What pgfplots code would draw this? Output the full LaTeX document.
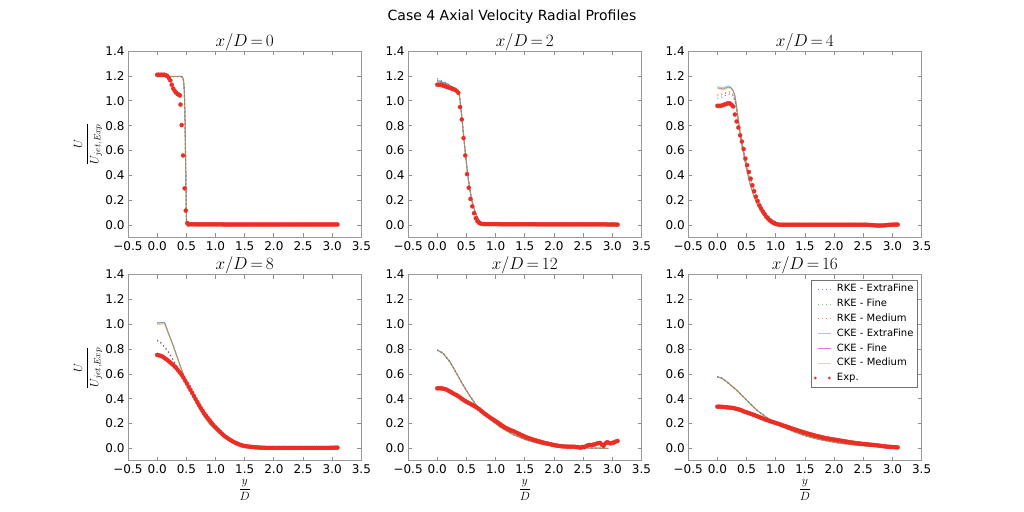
\documentclass[border=0pt]{standalone}
\usepackage{fontspec}
\setmainfont{DejaVu Sans}
\usepackage{pgfplots}
\usepackage{pgfplotstable}
\pgfplotsset{compat=1.18}

\definecolor{mplb}{rgb}{0,0,1}
\definecolor{mplg}{rgb}{0,0.5,0}
\definecolor{mplr}{rgb}{1,0,0}
\definecolor{mplc}{rgb}{0,0.75,0.75}
\definecolor{mplm}{rgb}{0.75,0,0.75}
\definecolor{mply}{rgb}{0.75,0.75,0}
\definecolor{expred}{RGB}{235,45,35}

% experimental data, common grid
\pgfplotstableread{
x e0 e2 e4 e8 e12 e16
0.00 nan 1.13 0.96 0.753 0.484 0.336
0.03 nan 1.13 0.96 0.75 0.485 0.336
0.06 nan 1.13 0.96 0.745 0.484 0.335
0.09 nan 1.125 0.965 0.74 0.482 0.334
0.12 nan 1.12 0.97 0.73 0.479 0.333
0.15 nan 1.115 0.975 0.72 0.475 0.331
0.18 nan 1.11 0.98 0.71 0.468 0.33
0.21 nan 1.105 0.98 0.698 0.46 0.328
0.24 nan 1.10 0.97 0.685 0.452 0.327
0.27 nan 1.095 0.955 0.674 0.443 0.325
0.30 nan 1.09 0.89 0.66 0.436 0.322
0.33 nan 1.08 0.834 0.645 0.43 0.318
0.36 nan 1.065 0.785 0.628 0.42 0.315
0.39 nan 0.95 0.722 0.61 0.41 0.31
0.42 nan 0.85 0.672 0.591 0.40 0.305
0.45 nan 0.70 0.612 0.57 0.39 0.299
0.48 nan 0.56 0.535 0.545 0.381 0.293
0.51 nan 0.41 0.482 0.522 0.373 0.289
0.54 0.008 0.30 0.427 0.497 0.366 0.284
0.57 0.006 0.21 0.373 0.472 0.358 0.279
0.60 0.006 0.15 0.32 0.447 0.35 0.274
0.63 0.005 0.095 0.272 0.422 0.342 0.269
0.66 0.005 0.055 0.228 0.397 0.334 0.263
0.69 0.005 0.03 0.193 0.372 0.325 0.258
0.72 0.005 0.016 0.158 0.347 0.315 0.252
0.75 0.005 0.01 0.132 0.324 0.303 0.246
0.78 0.005 0.008 0.107 0.302 0.292 0.241
0.81 0.005 0.007 0.086 0.28 0.28 0.235
0.84 0.005 0.007 0.065 0.261 0.27 0.23
0.87 0.005 0.007 0.05 0.243 0.26 0.225
0.90 0.005 0.007 0.036 0.225 0.25 0.22
0.93 0.005 0.007 0.025 0.207 0.241 0.215
0.96 0.005 0.007 0.016 0.189 0.232 0.211
0.99 0.005 0.007 0.01 0.174 0.223 0.206
1.02 0.005 0.007 0.006 0.16 0.213 0.202
1.05 0.005 0.007 0.003 0.146 0.204 0.197
1.08 0.005 0.006 0.002 0.132 0.194 0.192
1.11 0.005 0.006 0.002 0.118 0.184 0.187
1.14 0.004 0.006 0.002 0.105 0.175 0.182
1.17 0.004 0.006 0.002 0.094 0.166 0.178
1.20 0.004 0.006 0.002 0.084 0.159 0.173
1.23 0.004 0.006 0.002 0.075 0.153 0.168
1.26 0.004 0.006 0.002 0.066 0.146 0.163
1.29 0.004 0.006 0.002 0.058 0.141 0.158
1.32 0.004 0.006 0.002 0.05 0.135 0.153
1.35 0.004 0.006 0.002 0.043 0.129 0.149
1.38 0.004 0.006 0.002 0.037 0.122 0.144
1.41 0.004 0.006 0.002 0.031 0.115 0.14
1.44 0.004 0.006 0.002 0.026 0.108 0.135
1.47 0.004 0.006 0.002 0.022 0.101 0.131
1.50 0.004 0.006 0.002 0.019 0.095 0.126
1.53 0.004 0.006 0.002 0.017 0.089 0.122
1.56 0.004 0.006 0.002 0.015 0.084 0.118
1.59 0.004 0.006 0.002 0.013 0.079 0.114
1.62 0.004 0.006 0.002 0.012 0.074 0.11
1.65 0.004 0.006 0.002 0.011 0.069 0.106
1.68 0.004 0.006 0.002 0.009 0.065 0.102
1.71 0.004 0.005 0.002 0.008 0.061 0.099
1.74 0.004 0.005 0.002 0.007 0.057 0.096
1.77 0.004 0.005 0.002 0.006 0.053 0.092
1.80 0.004 0.005 0.002 0.005 0.049 0.089
1.83 0.004 0.005 0.002 0.005 0.045 0.085
1.86 0.004 0.005 0.002 0.004 0.042 0.082
1.89 0.004 0.005 0.002 0.004 0.039 0.08
1.92 0.004 0.005 0.002 0.004 0.035 0.077
1.95 0.004 0.005 0.002 0.004 0.032 0.075
1.98 0.004 0.005 0.002 0.004 0.029 0.073
2.01 0.004 0.005 0.002 0.004 0.026 0.07
2.04 0.004 0.005 0.002 0.004 0.023 0.068
2.07 0.004 0.005 0.002 0.004 0.021 0.066
2.10 0.004 0.005 0.002 0.004 0.019 0.063
2.13 0.004 0.005 0.002 0.004 0.017 0.061
2.16 0.004 0.005 0.002 0.004 0.016 0.058
2.19 0.004 0.005 0.002 0.004 0.015 0.056
2.22 0.004 0.005 0.002 0.004 0.014 0.054
2.25 0.004 0.005 0.002 0.004 0.014 0.051
2.28 0.004 0.005 0.002 0.004 0.013 0.049
2.31 0.004 0.005 0.002 0.004 0.014 0.047
2.34 0.004 0.005 0.002 0.004 0.013 0.045
2.37 0.004 0.005 0.002 0.004 0.012 0.043
2.40 0.004 0.005 0.002 0.004 0.01 0.041
2.43 0.004 0.005 0.002 0.004 0.008 0.039
2.46 0.004 0.005 0.002 0.004 0.006 0.038
2.49 0.004 0.005 0.002 0.004 0.012 0.036
2.52 0.004 0.005 0.002 0.004 0.01 0.035
2.55 0.004 0.005 0.002 0.004 0.018 0.033
2.58 0.004 0.005 0.001 0.004 0.025 0.032
2.61 0.004 0.005 0.0 0.004 0.028 0.03
2.64 0.004 0.005 0.0 0.004 0.026 0.029
2.67 0.004 0.005 -0.002 0.004 0.03 0.028
2.70 0.004 0.005 -0.003 0.004 0.032 0.026
2.73 0.004 0.005 -0.004 0.004 0.038 0.025
2.76 0.004 0.005 -0.004 0.004 0.042 0.023
2.79 0.004 0.005 -0.005 0.004 0.044 0.021
2.82 0.004 0.005 -0.004 0.004 0.03 0.019
2.85 0.004 0.005 -0.003 0.004 0.02 0.017
2.88 0.004 0.005 -0.002 0.004 0.04 0.015
2.91 0.004 0.004 0.0 0.004 0.05 0.014
2.94 0.004 0.004 0.001 0.004 0.045 0.013
2.97 0.004 0.004 0.002 0.005 0.04 0.012
3.00 0.004 0.004 0.002 0.005 0.045 0.011
3.03 0.004 0.004 0.003 0.005 0.048 0.01
3.06 0.004 0.003 0.003 0.006 0.055 0.009
3.09 0.004 0.003 0.003 0.006 0.06 0.008
}\exptab

% experimental head of x/D=0 profile
\pgfplotstableread{
x y
0.000 1.21
0.025 1.21
0.050 1.21
0.075 1.21
0.100 1.21
0.125 1.21
0.150 1.205
0.175 1.20
0.200 1.185
0.225 1.165
0.250 1.13
0.275 1.10
0.300 1.08
0.325 1.065
0.350 1.055
0.375 1.048
0.390 1.043
0.400 0.97
0.420 0.805
0.445 0.56
0.470 0.295
0.490 0.116
0.515 0.015
}\expzero

% models: a=RKE-EF b=RKE-F c=RKE-M d=CKE-EF e=CKE-F f=CKE-M
\pgfplotstableread{
x a b c d e f
0 1.195 1.195 1.195 1.198 1.197 1.195
0.1 1.195 1.195 1.195 1.198 1.197 1.195
0.2 1.195 1.195 1.195 1.198 1.197 1.195
0.3 1.195 1.195 1.195 1.198 1.197 1.195
0.4 1.196 1.195 1.195 1.198 1.197 1.195
0.43 1.198 1.192 1.19 1.195 1.193 1.19
0.45 1.18 1.17 1.165 1.175 1.17 1.165
0.465 1.10 1.08 1.07 1.09 1.08 1.07
0.475 0.93 0.90 0.88 0.92 0.90 0.88
0.485 0.64 0.60 0.58 0.62 0.60 0.58
0.492 0.38 0.35 0.33 0.37 0.35 0.33
0.498 0.14 0.12 0.11 0.13 0.12 0.11
0.505 0.01 0.0 0.0 0.005 0.0 0.0
0.52 -0.01 -0.01 -0.008 -0.01 -0.01 -0.008
0.6 0.0 0.0 0.0 0.0 0.0 0.0
3.1 0 0 0 0 0 0
}\mzero

\pgfplotstableread{
x a b c d e f
0 1.18 1.17 1.16 1.165 1.16 1.15
0.05 1.17 1.16 1.155 1.16 1.155 1.15
0.1 1.155 1.15 1.145 1.15 1.145 1.14
0.15 1.145 1.14 1.14 1.145 1.14 1.135
0.2 1.13 1.13 1.125 1.13 1.125 1.125
0.25 1.115 1.115 1.11 1.115 1.11 1.11
0.3 1.10 1.10 1.095 1.10 1.095 1.095
0.35 1.085 1.085 1.08 1.085 1.08 1.08
0.37 1.075 1.075 1.07 1.075 1.07 1.07
0.39 1.01 1.0 1.0 1.01 1.0 1.0
0.42 0.88 0.87 0.87 0.88 0.87 0.87
0.45 0.73 0.72 0.72 0.73 0.72 0.72
0.48 0.59 0.58 0.58 0.59 0.58 0.58
0.51 0.46 0.45 0.45 0.46 0.45 0.45
0.54 0.35 0.34 0.34 0.35 0.34 0.34
0.57 0.26 0.25 0.25 0.26 0.25 0.25
0.60 0.19 0.18 0.18 0.19 0.18 0.18
0.64 0.12 0.115 0.115 0.12 0.115 0.115
0.68 0.072 0.068 0.068 0.072 0.068 0.068
0.72 0.038 0.035 0.035 0.038 0.035 0.035
0.76 0.018 0.016 0.016 0.018 0.016 0.016
0.80 0.007 0.006 0.006 0.007 0.006 0.006
0.9 0.001 0.001 0.001 0.001 0.001 0.001
1.0 0 0 0 0 0 0
3.1 0 0 0 0 0 0
}\mtwo

\pgfplotstableread{
x a b c d e f
0 1.02 1.04 1.05 1.115 1.105 1.10
0.05 1.025 1.045 1.055 1.11 1.10 1.095
0.1 1.035 1.05 1.06 1.105 1.095 1.09
0.15 1.045 1.06 1.07 1.115 1.105 1.10
0.19 1.05 1.065 1.075 1.12 1.11 1.105
0.23 1.05 1.06 1.07 1.11 1.105 1.10
0.27 1.04 1.045 1.05 1.085 1.08 1.08
0.30 1.0 1.0 1.005 1.045 1.04 1.04
0.33 0.93 0.93 0.93 0.95 0.95 0.95
0.36 0.84 0.84 0.84 0.84 0.84 0.84
0.39 0.75 0.75 0.75 0.73 0.73 0.73
0.42 0.67 0.67 0.67 0.64 0.64 0.64
0.45 0.60 0.60 0.60 0.575 0.575 0.575
0.50 0.49 0.49 0.49 0.45 0.45 0.45
0.56 0.38 0.38 0.38 0.33 0.33 0.33
0.62 0.29 0.29 0.29 0.24 0.24 0.24
0.67 0.225 0.225 0.225 0.18 0.18 0.18
0.73 0.165 0.165 0.165 0.125 0.125 0.125
0.79 0.12 0.12 0.12 0.085 0.085 0.085
0.85 0.085 0.085 0.085 0.052 0.052 0.052
0.93 0.045 0.045 0.045 0.022 0.022 0.022
1.04 0.015 0.015 0.015 0.005 0.005 0.005
1.15 0.004 0.004 0.004 0.001 0.001 0.001
1.3 0 0 0 0 0 0
3.1 0 0 0 0 0 0
}\mfour

\pgfplotstableread{
x a b c d e f
0 0.873 0.87 0.865 1.012 1.008 1.0
0.05 0.86 0.858 0.853 1.014 1.01 1.0
0.1 0.835 0.832 0.828 1.016 1.012 1.005
0.13 0.817 0.815 0.81 1.012 1.008 1.0
0.19 0.78 0.778 0.775 0.935 0.93 0.925
0.28 0.71 0.708 0.705 0.825 0.82 0.815
0.36 0.645 0.643 0.64 0.715 0.712 0.708
0.45 0.57 0.568 0.566 0.595 0.593 0.59
0.56 0.47 0.469 0.468 0.472 0.471 0.47
0.68 0.37 0.369 0.368 0.357 0.356 0.355
0.79 0.29 0.289 0.288 0.267 0.266 0.265
0.9 0.215 0.215 0.214 0.197 0.196 0.195
1.08 0.13 0.13 0.13 0.116 0.116 0.115
1.25 0.075 0.075 0.075 0.066 0.066 0.065
1.42 0.04 0.04 0.04 0.035 0.035 0.035
1.59 0.018 0.018 0.018 0.017 0.017 0.017
1.76 0.008 0.008 0.008 0.008 0.008 0.008
2.0 0.002 0.002 0.002 0.002 0.002 0.002
2.5 0 0 0 0 0 0
3.1 0 0 0 0 0 0
}\meight

\pgfplotstableread{
x a b c d e f
0 0.795 0.792 0.79 0.793 0.792 0.79
0.1 0.768 0.766 0.764 0.766 0.765 0.763
0.215 0.70 0.699 0.697 0.699 0.698 0.696
0.33 0.607 0.605 0.603 0.605 0.604 0.602
0.443 0.512 0.511 0.509 0.511 0.51 0.508
0.557 0.425 0.424 0.422 0.424 0.423 0.421
0.672 0.346 0.345 0.344 0.345 0.344 0.343
0.844 0.261 0.26 0.259 0.26 0.259 0.258
1.07 0.176 0.175 0.174 0.175 0.174 0.173
1.30 0.113 0.112 0.111 0.112 0.111 0.11
1.53 0.069 0.068 0.067 0.068 0.067 0.066
1.76 0.039 0.038 0.037 0.038 0.037 0.037
1.99 0.02 0.019 0.019 0.019 0.019 0.018
2.21 0.011 0.011 0.01 0.011 0.01 0.01
2.44 0.005 0.005 0.005 0.005 0.005 0.005
2.7 0.002 0.002 0.002 0.002 0.002 0.002
2.93 0 0 0 0 0 0
}\mtwelve

\pgfplotstableread{
x a b c d e f
0 0.578 0.577 0.576 0.578 0.577 0.576
0.08 0.565 0.564 0.563 0.565 0.564 0.563
0.16 0.538 0.537 0.536 0.538 0.537 0.536
0.33 0.47 0.469 0.468 0.47 0.469 0.468
0.5 0.39 0.389 0.388 0.39 0.389 0.388
0.674 0.309 0.308 0.307 0.309 0.308 0.307
0.845 0.25 0.249 0.248 0.249 0.248 0.247
1.017 0.198 0.198 0.197 0.198 0.197 0.196
1.188 0.16 0.16 0.159 0.16 0.159 0.158
1.36 0.127 0.126 0.126 0.126 0.125 0.125
1.53 0.1 0.099 0.099 0.099 0.098 0.098
1.70 0.078 0.078 0.077 0.077 0.077 0.076
1.874 0.062 0.061 0.06 0.06 0.06 0.059
2.045 0.048 0.047 0.047 0.046 0.046 0.045
2.216 0.038 0.037 0.036 0.035 0.035 0.034
2.39 0.03 0.029 0.028 0.026 0.026 0.025
2.56 0.025 0.024 0.023 0.02 0.02 0.019
2.73 0.022 0.02 0.019 0.015 0.015 0.014
2.9 0.016 0.015 0.014 0.01 0.01 0.009
3.05 0.01 0.01 0.009 0.007 0.007 0.006
}\msixteen

\pgfplotsset{
  panel/.style={
    scale only axis, width=233.4bp, height=186.2bp,
    anchor=south west,
    xmin=-0.5, xmax=3.5, ymin=-0.1, ymax=1.4,
    xtick={-0.5,0,0.5,1,1.5,2,2.5,3,3.5},
    xticklabels={−0.5,0.0,0.5,1.0,1.5,2.0,2.5,3.0,3.5},
    ytick={0,0.2,0.4,0.6,0.8,1.0,1.2,1.4},
    yticklabels={0.0,0.2,0.4,0.6,0.8,1.0,1.2,1.4},
    tick align=inside, xtick pos=both, ytick pos=both,
    major tick length=4bp,
    axis line style={black!40, line width=0.8bp},
    every tick/.style={black!45, line width=0.8bp},
    tick label style={font=\fontsize{12bp}{14bp}\selectfont, black},
    x tick label style={inner sep=1bp, yshift=-3bp},
    /pgf/number format/assume math mode=true,
    every axis title/.style={font=\fontsize{16bp}{18bp}\selectfont, at={(0.5,1)}, anchor=base, yshift=5bp},
    every axis y label/.style={font=\fontsize{13bp}{15bp}\selectfont, at={(axis description cs:-0.171,0.5)}, anchor=center, rotate=90},
    every axis x label/.style={font=\fontsize{13bp}{15bp}\selectfont, at={(axis description cs:0.5,-0.157)}, anchor=center, inner sep=0pt},
    legend style={at={(axis description cs:0.984,0.971)}, anchor=north east,
      font=\fontsize{10bp}{12bp}\selectfont, draw=black!55, line width=0.6bp,
      inner sep=1.5bp, row sep=0bp,
      nodes={inner sep=2.6bp, text height=7.4bp, text depth=2.2bp}},
    legend cell align=left,
    legend image code/.code={\path[draw=none] (-6bp,-1bp) rectangle (16bp,1bp); \draw[#1] (0bp,0bp) -- (13bp,0bp);},
  },
  mline/.style={line width=1bp, draw opacity=0.5, no marks},
  rkeEF/.style={mline, mplb, dash pattern=on 1bp off 3bp},
  rkeF/.style={mline, mplg, dash pattern=on 1bp off 3bp},
  rkeM/.style={mline, mplr, dash pattern=on 1bp off 3bp},
  ckeEF/.style={mline, mplc},
  ckeF/.style={mline, mplm},
  ckeM/.style={mline, mply},
  expdots/.style={only marks, mark=*, mark size=2.1bp, color=expred,
    mark options={draw=expred, fill=expred, line width=0.2bp},
    legend image code/.code={\path[draw=none] (-6bp,-1bp) rectangle (16bp,1bp);
      \path[fill=expred, draw=none] (-3bp,0bp) circle[radius=1.6bp];
      \path[fill=expred, draw=none] (11bp,0bp) circle[radius=1.6bp];}},
}

\newcommand{\modelcurves}[1]{%
  \addplot[rkeEF] table[x=x,y=a]{#1};
  \addplot[rkeF] table[x=x,y=b]{#1};
  \addplot[rkeM] table[x=x,y=c]{#1};
  \addplot[ckeEF] table[x=x,y=d]{#1};
  \addplot[ckeF] table[x=x,y=e]{#1};
  \addplot[ckeM] table[x=x,y=f]{#1};
}

\begin{document}
\begin{tikzpicture}
\path[use as bounding box, fill=white] (0,0) rectangle (1024bp,512bp);
\node[font=\fontsize{14bp}{16bp}\selectfont, anchor=base] at (512bp,491bp) {Case 4 Axial Velocity Radial Profiles};

% row 1
\begin{axis}[panel, at={(128bp,274.6bp)}, title={$x/D\,{=}\,0$},
  ylabel={$\displaystyle\frac{U}{U_{jet,Exp}}$}]
\modelcurves{\mzero}
\addplot[expdots] table[x=x,y=y]{\expzero};
\addplot[expdots] table[x=x,y=e0]{\exptab};
\end{axis}

\begin{axis}[panel, at={(408.1bp,274.6bp)}, title={$x/D\,{=}\,2$}]
\modelcurves{\mtwo}
\addplot[expdots] table[x=x,y=e2]{\exptab};
\end{axis}

\begin{axis}[panel, at={(688.2bp,274.6bp)}, title={$x/D\,{=}\,4$}]
\modelcurves{\mfour}
\addplot[expdots] table[x=x,y=e4]{\exptab};
\end{axis}

% row 2
\begin{axis}[panel, at={(128bp,51.2bp)}, title={$x/D\,{=}\,8$},
  ylabel={$\displaystyle\frac{U}{U_{jet,Exp}}$},
  xlabel={$\displaystyle\frac{y}{D}$}]
\modelcurves{\meight}
\addplot[expdots] table[x=x,y=e8]{\exptab};
\end{axis}

\begin{axis}[panel, at={(408.1bp,51.2bp)}, title={$x/D\,{=}\,12$},
  xlabel={$\displaystyle\frac{y}{D}$}]
\modelcurves{\mtwelve}
\addplot[expdots] table[x=x,y=e12]{\exptab};
\end{axis}

\begin{axis}[panel, at={(688.2bp,51.2bp)}, title={$x/D\,{=}\,16$},
  xlabel={$\displaystyle\frac{y}{D}$},
  legend entries={RKE - ExtraFine, RKE - Fine, RKE - Medium, CKE - ExtraFine, CKE - Fine, CKE - Medium, Exp.}]
\modelcurves{\msixteen}
\addplot[expdots] table[x=x,y=e16]{\exptab};
\end{axis}
\end{tikzpicture}
\end{document}
